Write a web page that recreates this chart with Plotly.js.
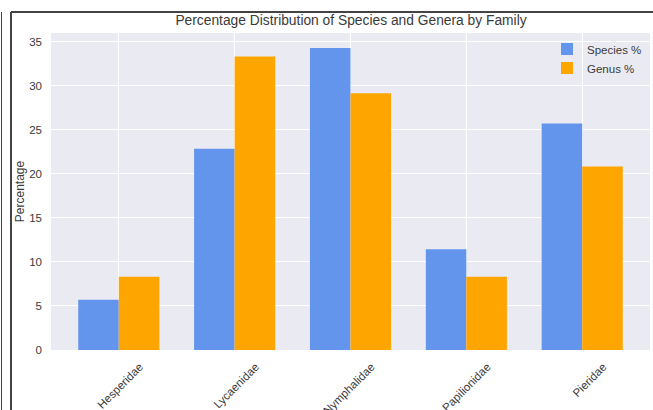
<!DOCTYPE html>
<html>
<head>
<meta charset="utf-8">
<script src="https://cdn.plot.ly/plotly-3.0.1.min.js"></script>
<style>
html,body{margin:0;padding:0;background:#fff;}
#chart{width:653px;height:410px;}
</style>
</head>
<body>
<div id="chart"></div>
<script>
const families = ["Hesperidae", "Lycaenidae", "Nymphalidae", "Papilionidae", "Pieridae"];
const speciesPct = [5.71, 22.86, 34.29, 11.43, 25.71];
const genusPct = [8.33, 33.33, 29.17, 8.33, 20.83];

const textColor = "#3a3a3a";
const font = {family: "Liberation Sans, Arial, sans-serif", color: textColor};

const traces = [
  {type: "bar", name: "Species %", x: families, y: speciesPct,
   marker: {color: "#6495ED"}, hoverinfo: "x+y"},
  {type: "bar", name: "Genus %", x: families, y: genusPct,
   marker: {color: "#FFA500"}, hoverinfo: "x+y"}
];

const ml = 51, mr = 3, mt = 33, mb = 60, W = 653, H = 410;
const pw = W - ml - mr, ph = H - mt - mb;
const px = p => (p - ml) / pw;
const py = p => (H - mb - p) / ph;
const frameColor = "#444444";

const layout = {
  width: W, height: H,
  margin: {l: ml, r: mr, t: mt, b: mb, pad: 0},
  paper_bgcolor: "#ffffff",
  plot_bgcolor: "#EAEAF2",
  font: Object.assign({size: 12}, font),
  title: {text: "Percentage Distribution of Species and Genera by Family",
          font: Object.assign({size: 13.8}, font),
          x: px(351), xref: "paper", xanchor: "center",
          y: 1 - 20 / H, yref: "container", yanchor: "middle"},
  barmode: "group", bargap: 0.3, bargroupgap: 0,
  xaxis: {type: "category", range: [-0.585, 4.585], showgrid: true, gridcolor: "#ffffff",
          gridwidth: 1, zeroline: false, showline: false, ticks: "",
          tickangle: -45, ticklabelshift: 21, ticklabelstandoff: 7,
          tickfont: Object.assign({size: 11.5}, font)},
  yaxis: {range: [0, 36.0], dtick: 5, showgrid: true, gridcolor: "#ffffff", gridwidth: 1,
          zeroline: false, showline: false, ticks: "", ticklabelstandoff: 8,
          tickfont: Object.assign({size: 11.5}, font),
          title: {text: "Percentage", font: Object.assign({size: 12}, font), standoff: 2}},
  legend: {x: 0.995, y: 0.995, xanchor: "right", yanchor: "top",
           bgcolor: "rgba(0,0,0,0)", borderwidth: 0, tracegroupgap: 0,
           font: Object.assign({size: 11.5}, font), traceorder: "normal"},
  shapes: [
    {type: "line", xref: "paper", yref: "paper", x0: px(1.5), x1: px(1.5), y0: py(12), y1: py(420),
     line: {color: frameColor, width: 1}},
    {type: "line", xref: "paper", yref: "paper", x0: px(11), x1: px(11), y0: py(12), y1: py(420),
     line: {color: frameColor, width: 2}},
    {type: "line", xref: "paper", yref: "paper", x0: px(11), x1: px(660), y0: py(12), y1: py(12),
     line: {color: frameColor, width: 2}}
  ],
  showlegend: true
};

Plotly.newPlot("chart", traces, layout, {displayModeBar: false, staticPlot: true});
</script>
</body>
</html>
